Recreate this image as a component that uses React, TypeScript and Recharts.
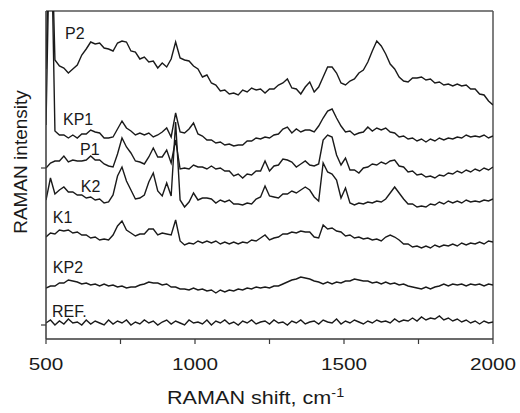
import React from 'react'
import { LineChart, Line, XAxis, YAxis, ReferenceLine, ReferenceDot } from 'recharts'

// Raman shift grid (cm-1)
const shift = [
  500, 515, 530, 545, 560, 575, 590, 605, 620, 635, 650, 665, 680, 695, 710, 725, 740, 755, 770, 785,
  800, 815, 830, 845, 860, 875, 890, 905, 920, 935, 950, 965, 980, 995, 1010, 1025, 1040, 1055, 1070, 1085,
  1100, 1115, 1130, 1145, 1160, 1175, 1190, 1205, 1220, 1235, 1250, 1265, 1280, 1295, 1310, 1325, 1340, 1355, 1370, 1385,
  1400, 1415, 1430, 1445, 1460, 1475, 1490, 1505, 1520, 1535, 1550, 1565, 1580, 1595, 1610, 1625, 1640, 1655, 1670, 1685,
  1700, 1715, 1730, 1745, 1760, 1775, 1790, 1805, 1820, 1835, 1850, 1865, 1880, 1895, 1910, 1925, 1940, 1955, 1970, 1985,
  2000,
]

// intensities, stacked with offsets as in the figure (arb. units)
const p2 = [
  270, 450, 279, 273, 271, 266, 270, 274, 284, 290, 297, 295, 296, 291, 290, 288, 296, 298, 297, 288,
  287, 280, 282, 277, 278, 271, 276, 272, 280, 297, 281, 279, 278, 273, 270, 262, 264, 256, 254, 248,
  249, 245, 246, 244, 249, 247, 251, 249, 250, 246, 250, 250, 254, 256, 260, 251, 250, 245, 252, 257,
  247, 252, 262, 272, 272, 266, 256, 254, 258, 260, 266, 269, 277, 288, 298, 293, 285, 275, 270, 262,
  258, 257, 261, 261, 262, 259, 260, 256, 257, 254, 255, 253, 255, 253, 254, 250, 250, 245, 244, 238,
  234,
]
const kp1 = [
  214, 450, 208, 204, 204, 201, 204, 201, 205, 205, 209, 207, 206, 201, 201, 202, 210, 218, 211, 208,
  204, 206, 204, 206, 202, 204, 207, 211, 202, 226, 207, 206, 210, 216, 205, 203, 199, 199, 196, 197,
  194, 195, 193, 194, 194, 198, 198, 201, 200, 202, 201, 204, 205, 210, 212, 206, 210, 207, 209, 209,
  207, 213, 221, 228, 230, 221, 213, 207, 208, 204, 206, 207, 212, 208, 211, 209, 211, 207, 206, 202,
  203, 200, 201, 198, 200, 197, 200, 198, 201, 199, 201, 200, 202, 201, 204, 202, 203, 202, 204, 201,
  203,
]
const p1 = [
  171, 176, 178, 178, 183, 177, 179, 178, 178, 179, 183, 179, 179, 175, 173, 172, 185, 201, 192, 186,
  178, 177, 175, 182, 191, 182, 182, 189, 176, 199, 170, 171, 170, 174, 172, 172, 170, 173, 170, 171,
  168, 168, 163, 165, 161, 165, 164, 168, 168, 178, 168, 173, 174, 180, 179, 177, 172, 175, 178, 174,
  173, 175, 199, 204, 202, 184, 174, 181, 169, 169, 166, 171, 172, 175, 174, 177, 175, 178, 179, 173,
  172, 167, 168, 164, 165, 162, 163, 161, 164, 163, 166, 165, 168, 166, 169, 167, 170, 168, 171, 169,
  172,
]
const k2 = [
  139, 161, 145, 149, 152, 147, 147, 144, 144, 141, 142, 139, 140, 136, 137, 144, 163, 172, 158, 149,
  140, 141, 144, 157, 166, 148, 143, 156, 143, 217, 139, 132, 137, 146, 139, 141, 141, 140, 136, 139,
  137, 139, 135, 135, 134, 136, 135, 140, 142, 153, 143, 142, 141, 145, 145, 148, 146, 149, 152, 149,
  142, 138, 176, 167, 165, 159, 141, 151, 136, 134, 136, 135, 137, 136, 138, 137, 140, 146, 152, 146,
  140, 135, 135, 132, 133, 132, 135, 134, 137, 135, 138, 136, 138, 136, 139, 137, 138, 137, 139, 138,
  140,
]
const k1 = [
  102, 106, 105, 109, 108, 109, 106, 107, 104, 104, 101, 102, 99, 100, 99, 104, 113, 118, 109, 106,
  103, 105, 105, 110, 110, 104, 106, 105, 104, 119, 98, 94, 96, 95, 98, 96, 98, 96, 98, 95,
  97, 95, 97, 95, 97, 96, 99, 98, 101, 104, 99, 101, 102, 105, 105, 107, 106, 108, 107, 107,
  102, 101, 114, 110, 111, 108, 107, 103, 104, 101, 102, 100, 101, 99, 100, 98, 102, 104, 102, 99,
  95, 95, 92, 93, 91, 93, 91, 94, 92, 94, 93, 95, 93, 96, 94, 96, 95, 97, 95, 98,
  97,
]
const kp2 = [
  51, 53, 53, 56, 56, 59, 58, 57, 55, 56, 54, 55, 53, 55, 53, 54, 52, 53, 51, 52,
  52, 54, 55, 57, 56, 56, 54, 55, 52, 52, 50, 50, 49, 51, 49, 50, 48, 49, 46, 49,
  47, 49, 48, 50, 49, 51, 50, 52, 51, 52, 51, 53, 53, 55, 57, 59, 60, 62, 61, 60,
  58, 57, 55, 57, 55, 57, 56, 58, 58, 60, 59, 58, 58, 56, 57, 55, 57, 55, 56, 54,
  55, 53, 52, 51, 50, 52, 50, 52, 53, 55, 53, 55, 54, 55, 53, 55, 54, 55, 53, 55,
  54,
]
const ref = [
  16, 19, 14, 18, 15, 20, 16, 17, 14, 19, 15, 18, 16, 14, 19, 15, 18, 16, 19, 14,
  17, 15, 19, 16, 18, 14, 17, 19, 15, 18, 16, 14, 19, 16, 17, 15, 19, 14, 18, 16,
  19, 15, 17, 14, 18, 16, 19, 15, 17, 18, 15, 19, 16, 17, 14, 18, 16, 19, 15, 17,
  18, 15, 19, 17, 16, 20, 15, 18, 16, 19, 17, 15, 18, 16, 19, 17, 18, 16, 20, 17,
  19, 18, 21, 18, 22, 19, 21, 20, 23, 19, 21, 18, 20, 17, 19, 16, 18, 15, 18, 16,
  17,
]

const seriesKeys = ['P2', 'KP1', 'P1', 'K2', 'K1', 'KP2', 'REF']
const xTicks = [500, 750, 1000, 1250, 1500, 1750, 2000]

// where each spectrum's name sits (shift, intensity)
const tags = [
  { text: 'P2', x: 564, y: 300 },
  { text: 'KP1', x: 557, y: 214 },
  { text: 'P1', x: 614, y: 184 },
  { text: 'K2', x: 617, y: 147 },
  { text: 'K1', x: 523, y: 116 },
  { text: 'KP2', x: 523, y: 66 },
  { text: 'REF.', x: 520, y: 22 },
]

const rows = shift.map((s, i) => ({
  shift: s,
  P2: p2[i],
  KP1: kp1[i],
  P1: p1[i],
  K2: k2[i],
  K1: k1[i],
  KP2: kp2[i],
  REF: ref[i],
}))

const INK = '#1a1a1a'
const AXIS = '#3a3a3a'

function XTick(props: any) {
  const { x, y, payload } = props
  if (payload.value % 500 !== 0) return <g />
  return (
    <text transform={`translate(${x},${y + 24}) scale(1.22,1)`} textAnchor="middle" fontSize={17} fill={INK}>
      {payload.value}
    </text>
  )
}

function XTitle(props: any) {
  const vb = props.viewBox || { x: 46, y: 339 }
  return (
    <text transform={`translate(${vb.x + 121},${vb.y + 65}) scale(1.2,1)`} fontSize={18} fill={INK}>
      RAMAN shift, cm
      <tspan fontSize={12} dy={-7}>-1</tspan>
    </text>
  )
}

function YTitle() {
  return (
    <text transform="translate(27,162) rotate(-90)" textAnchor="middle" fontSize={19} fill={INK}>
      RAMAN intensity
    </text>
  )
}

function SeriesTag(props: any) {
  const vb = props.viewBox || { x: 0, y: 0 }
  return (
    <text x={vb.x} y={vb.y} fontSize={16} fill={INK}>
      {props.text}
    </text>
  )
}

export default function App() {
  return (
    <div
      style={{
        position: 'absolute',
        left: 0,
        top: 0,
        width: 520,
        height: 413,
        background: '#fff',
        fontFamily: '"Liberation Sans", Arial, Helvetica, sans-serif',
      }}
    >
      <LineChart width={520} height={413} data={rows} margin={{ top: 11, right: 27, bottom: 0, left: 0 }}>
        <XAxis
          dataKey="shift"
          type="number"
          domain={[500, 2000]}
          ticks={xTicks}
          interval={0}
          allowDataOverflow
          height={74}
          tickSize={5}
          axisLine={{ stroke: AXIS, strokeWidth: 1.5 }}
          tickLine={{ stroke: AXIS, strokeWidth: 1.2 }}
          tick={<XTick />}
          label={<XTitle />}
        />
        <YAxis
          type="number"
          domain={[0, 328]}
          ticks={[14, 171]}
          allowDataOverflow
          width={46}
          tickSize={5}
          axisLine={{ stroke: AXIS, strokeWidth: 1.5 }}
          tickLine={{ stroke: AXIS, strokeWidth: 1.2 }}
          tickFormatter={() => ''}
          label={<YTitle />}
        />
        <ReferenceLine y={328} stroke="#555" strokeWidth={1.5} />
        <ReferenceLine x={2000} stroke="#555" strokeWidth={1.5} />
        {seriesKeys.map(k => (
          <Line
            key={k}
            dataKey={k}
            type="linear"
            stroke={INK}
            strokeWidth={1.4}
            strokeLinejoin="miter"
            dot={false}
            activeDot={false}
            isAnimationActive={false}
          />
        ))}
        {tags.map(t => (
          <ReferenceDot
            key={t.text}
            x={t.x}
            y={t.y}
            r={0}
            fill="none"
            stroke="none"
            label={<SeriesTag text={t.text} />}
          />
        ))}
      </LineChart>
    </div>
  )
}
